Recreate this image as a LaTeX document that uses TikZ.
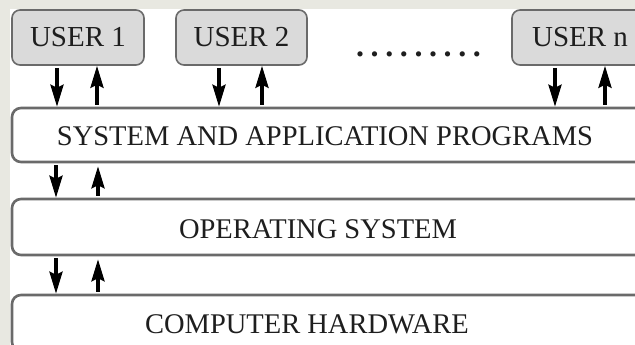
\documentclass[tikz,border=0pt]{standalone}
\usepackage{fontspec}
\setmainfont{Liberation Serif}
\usetikzlibrary{arrows.meta,calc}
\definecolor{bgstrip}{HTML}{E8E8E1}
\definecolor{boxline}{HTML}{6A6A6A}
\definecolor{userfill}{HTML}{DADADA}
\definecolor{txt}{HTML}{1E1E1E}
\tikzset{
  userbox/.style={draw=boxline, line width=1.6pt, fill=userfill, rounded corners=8pt,
    minimum height=55pt, inner sep=0pt, text=txt, font=\fontsize{29}{30}\selectfont},
  layerbox/.style={draw=boxline, line width=2.6pt, fill=white, rounded corners=9pt,
    inner sep=0pt},
  lbl/.style={text=txt, font=\fontsize{28.5}{30}\selectfont, inner sep=0pt},
  arr/.style={draw=black, line width=3.4pt, arrows={-Stealth[length=22pt,width=13pt,inset=3pt]}}
}
\newcommand{\dotrow}{.\hspace{6.6pt}.\hspace{6.6pt}.\hspace{6.6pt}.\hspace{6.6pt}.\hspace{6.6pt}.\hspace{6.6pt}.\hspace{6.6pt}.\hspace{6.6pt}.}
\begin{document}
\begin{tikzpicture}[x=1pt,y=-1pt]
\useasboundingbox (0,0) rectangle (635,345);
\clip (0,0) rectangle (635,345);
\fill[white] (0,0) rectangle (635,345);
\fill[bgstrip] (0,0) rectangle (635,9);
\fill[bgstrip] (0,0) rectangle (10,345);
% users
\node[userbox, minimum width=132pt] (u1) at (78,37.5) {USER 1};
\node[userbox, minimum width=131pt] (u2) at (241.5,37.5) {USER 2};
\node[userbox, minimum width=136pt] (un) at (580,37.5) {USER n};
\node[lbl, font=\fontsize{32}{34}\selectfont\bfseries] (dots) at (418.5,54) {\dotrow};
% layers
\node[layerbox, minimum width=640pt, minimum height=54pt] (sys) at (332,135) {};
\node[layerbox, minimum width=640pt, minimum height=56pt] (os) at (332,227) {};
\node[layerbox, minimum width=640pt, minimum height=56pt] (hw) at (332,323) {};
\node[lbl] (syst) at (325,136) {SYSTEM AND APPLICATION PROGRAMS};
\node[lbl] (ost) at (318,229) {OPERATING SYSTEM};
\node[lbl] (hwt) at (307,324) {COMPUTER HARDWARE};
% arrows users <-> system
\draw[arr, shorten <=2pt] ([xshift=-21pt]u1.south) -- ([xshift=-21pt]u1.south |- sys.north);
\draw[arr, shorten <=2pt] ([xshift=19pt]u1.south |- sys.north) -- ([xshift=19pt]u1.south);
\draw[arr, shorten <=2pt] ([xshift=-22.5pt]u2.south) -- ([xshift=-22.5pt]u2.south |- sys.north);
\draw[arr, shorten <=2pt] ([xshift=20.5pt]u2.south |- sys.north) -- ([xshift=20.5pt]u2.south);
\draw[arr, shorten <=2pt] ([xshift=-25pt]un.south) -- ([xshift=-25pt]un.south |- sys.north);
\draw[arr, shorten <=2pt] ([xshift=25pt]un.south |- sys.north) -- ([xshift=25pt]un.south);
% arrows system <-> os
\coordinate (c1) at (56,0);
\coordinate (c2) at (98,0);
\draw[arr, shorten <=2pt] (sys.south -| c1) -- (os.north -| c1);
\draw[arr, shorten <=2pt] (os.north -| c2) -- ([yshift=-3pt]sys.south -| c2);
% arrows os <-> hw
\draw[arr, shorten <=2pt] (os.south -| c1) -- (hw.north -| c1);
\draw[arr, shorten <=2pt] (hw.north -| c2) -- ([yshift=-3pt]os.south -| c2);
\end{tikzpicture}
\end{document}
